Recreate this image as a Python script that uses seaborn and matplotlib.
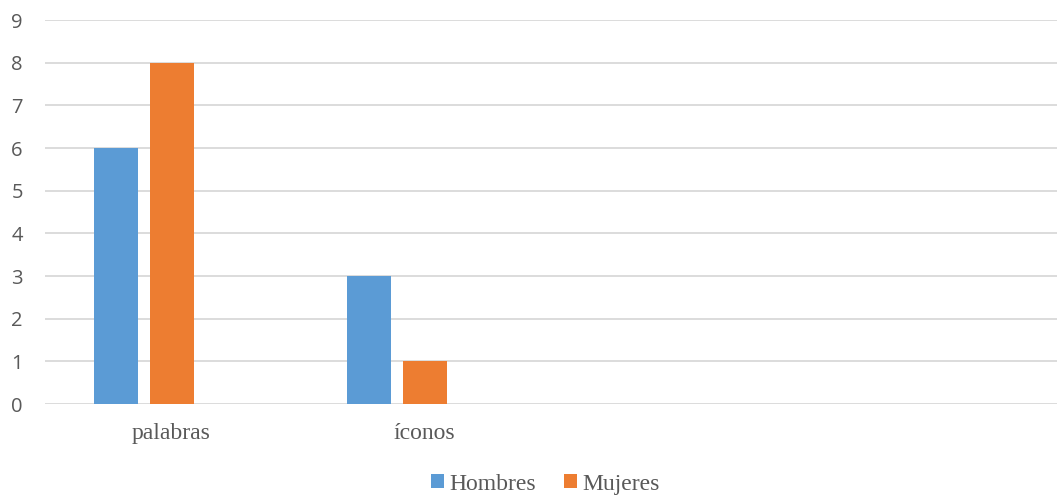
import matplotlib
matplotlib.use("Agg")
import matplotlib.pyplot as plt
from matplotlib.patches import Patch
import seaborn as sns
import pandas as pd

# Data
categories = ["palabras", "íconos"]
hombres = [6, 3]
mujeres = [8, 1]
series = ["Hombres", "Mujeres"]
slots = series + ["_vacío"]  # third, empty series slot
colors = ["#5B9BD5", "#ED7D31", "#A5A5A5"]
y_ticks = list(range(0, 10))

df = pd.DataFrame({
    "categoria": categories * 2,
    "serie": [series[0]] * len(categories) + [series[1]] * len(categories),
    "valor": hombres + mujeres,
})

sns.set_theme(style="white")
fig = plt.figure(figsize=(10.57, 4.98), dpi=100)
ax = fig.add_axes([45 / 1057, 94 / 498, 1 - 45 / 1057, (404 - 20) / 498])

sns.barplot(
    data=df, x="categoria", y="valor", hue="serie",
    order=categories, hue_order=slots,
    palette=dict(zip(slots, colors)),
    width=168 / 253, gap=12 / 56, saturation=1, legend=False,
    errorbar=None, ax=ax, zorder=3, linewidth=0, edgecolor="none",
)

ax.set_xlim(-0.5, 3.5)
ax.set_ylim(0, 9)
ax.set_yticks(y_ticks)
ax.yaxis.grid(True, color="#D9D9D9", linewidth=1.3, zorder=0)
ax.set_axisbelow(True)
for s in ax.spines.values():
    s.set_visible(False)
ax.set_xlabel("")
ax.set_ylabel("")
ax.tick_params(axis="both", length=0)
ax.tick_params(axis="y", pad=16, labelsize=14.5, labelcolor="#595959")
for lab in ax.get_yticklabels():
    lab.set_fontfamily("Open Sans")
ax.tick_params(axis="x", pad=14, labelsize=17, labelcolor="#595959")
for lab in ax.get_xticklabels():
    lab.set_fontfamily("Liberation Serif")

handles = [Patch(facecolor=c, edgecolor="none") for c in colors[:2]]
fig.legend(
    handles, series, loc="center", bbox_to_anchor=(0.516, 0.028),
    ncol=2, frameon=False, handlelength=0.55, handleheight=0.55,
    handletextpad=0.25, columnspacing=1.15,
    prop={"family": "Liberation Serif", "size": 17}, labelcolor="#595959",
)

fig.savefig("out.png", dpi=100)
